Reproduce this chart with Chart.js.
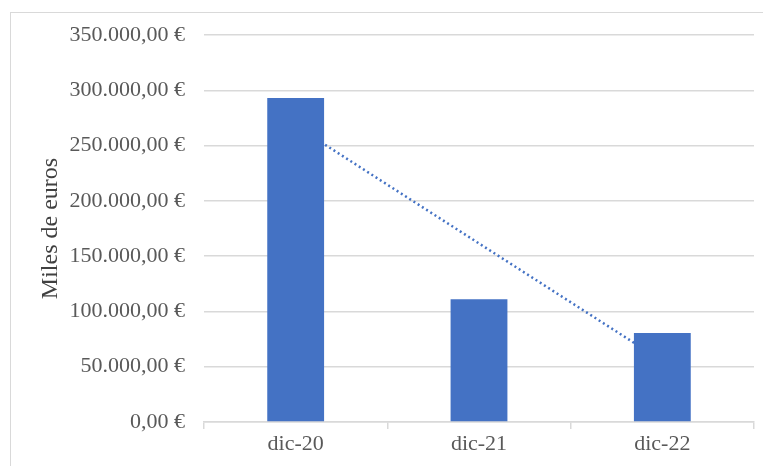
<!DOCTYPE html>
<html>
<head>
<meta charset="utf-8">
<script src="https://cdn.jsdelivr.net/npm/chart.js@4"></script>
<style>
  html, body { margin: 0; padding: 0; background: #fff; }
  #wrap { position: relative; width: 763px; height: 466px; }
  #frame { position: absolute; left: 10px; top: 12px; width: 760px; height: 460px;
           border: 1px solid #d9d9d9; box-sizing: border-box; }
  canvas { position: absolute; left: 0; top: 0; }
</style>
</head>
<body>
<div id="wrap">
  <div id="frame"></div>
  <canvas id="chart" width="763" height="466"></canvas>
</div>
<script>
const categories = ['dic-20', 'dic-21', 'dic-22'];
const amounts = [293000, 111000, 80500];
// linear trendline as it appears in the picture
const trend = [267800, 161500, 55200];

const fmt = v => v.toLocaleString('de-DE', { minimumFractionDigits: 2, maximumFractionDigits: 2 }) + ' €';

new Chart(document.getElementById('chart'), {
    data: {
        labels: categories,
        datasets: [
            {
                type: 'bar',
                label: 'Importe',
                data: amounts,
                backgroundColor: '#4472C4',
                barPercentage: 0.31,
                categoryPercentage: 1
            },
            {
                type: 'line',
                label: 'Tendencia',
                data: trend,
                borderColor: '#4472C4',
                borderWidth: 2.5,
                borderDash: [2, 3],
                pointRadius: 0,
                fill: false
            }
        ]
    },
    options: {
        responsive: false,
        animation: false,
        layout: { padding: { top: 35, right: 9, left: 0, bottom: 0 } },
        plugins: {
            legend: { display: false },
            tooltip: { enabled: false }
        },
        scales: {
            x: {
                offset: true,
                grid: { offset: true, drawOnChartArea: false, color: '#d9d9d9', tickLength: 7, lineWidth: 1.5 },
                border: { color: '#d9d9d9', width: 1.5 },
                ticks: { color: '#595959', padding: 2, font: { family: 'Liberation Serif', size: 22 } },
                afterFit: s => { s.height = 44; }
            },
            y: {
                min: 0,
                max: 350000,
                ticks: {
                    stepSize: 50000,
                    padding: 19,
                    color: '#595959',
                    font: { family: 'Liberation Serif', size: 22 },
                    callback: v => fmt(v)
                },
                grid: { color: '#d9d9d9', lineWidth: 1.5, drawTicks: false },
                border: { display: false },
                title: {
                    display: true,
                    text: 'Miles de euros',
                    color: '#404040',
                    padding: { top: 36, bottom: 0 },
                    font: { family: 'Liberation Serif', size: 24 }
                },
                afterFit: s => { s.width = 204; s.paddingTop = 0; s.paddingBottom = 0; }
            }
        }
    }
});
</script>
</body>
</html>
